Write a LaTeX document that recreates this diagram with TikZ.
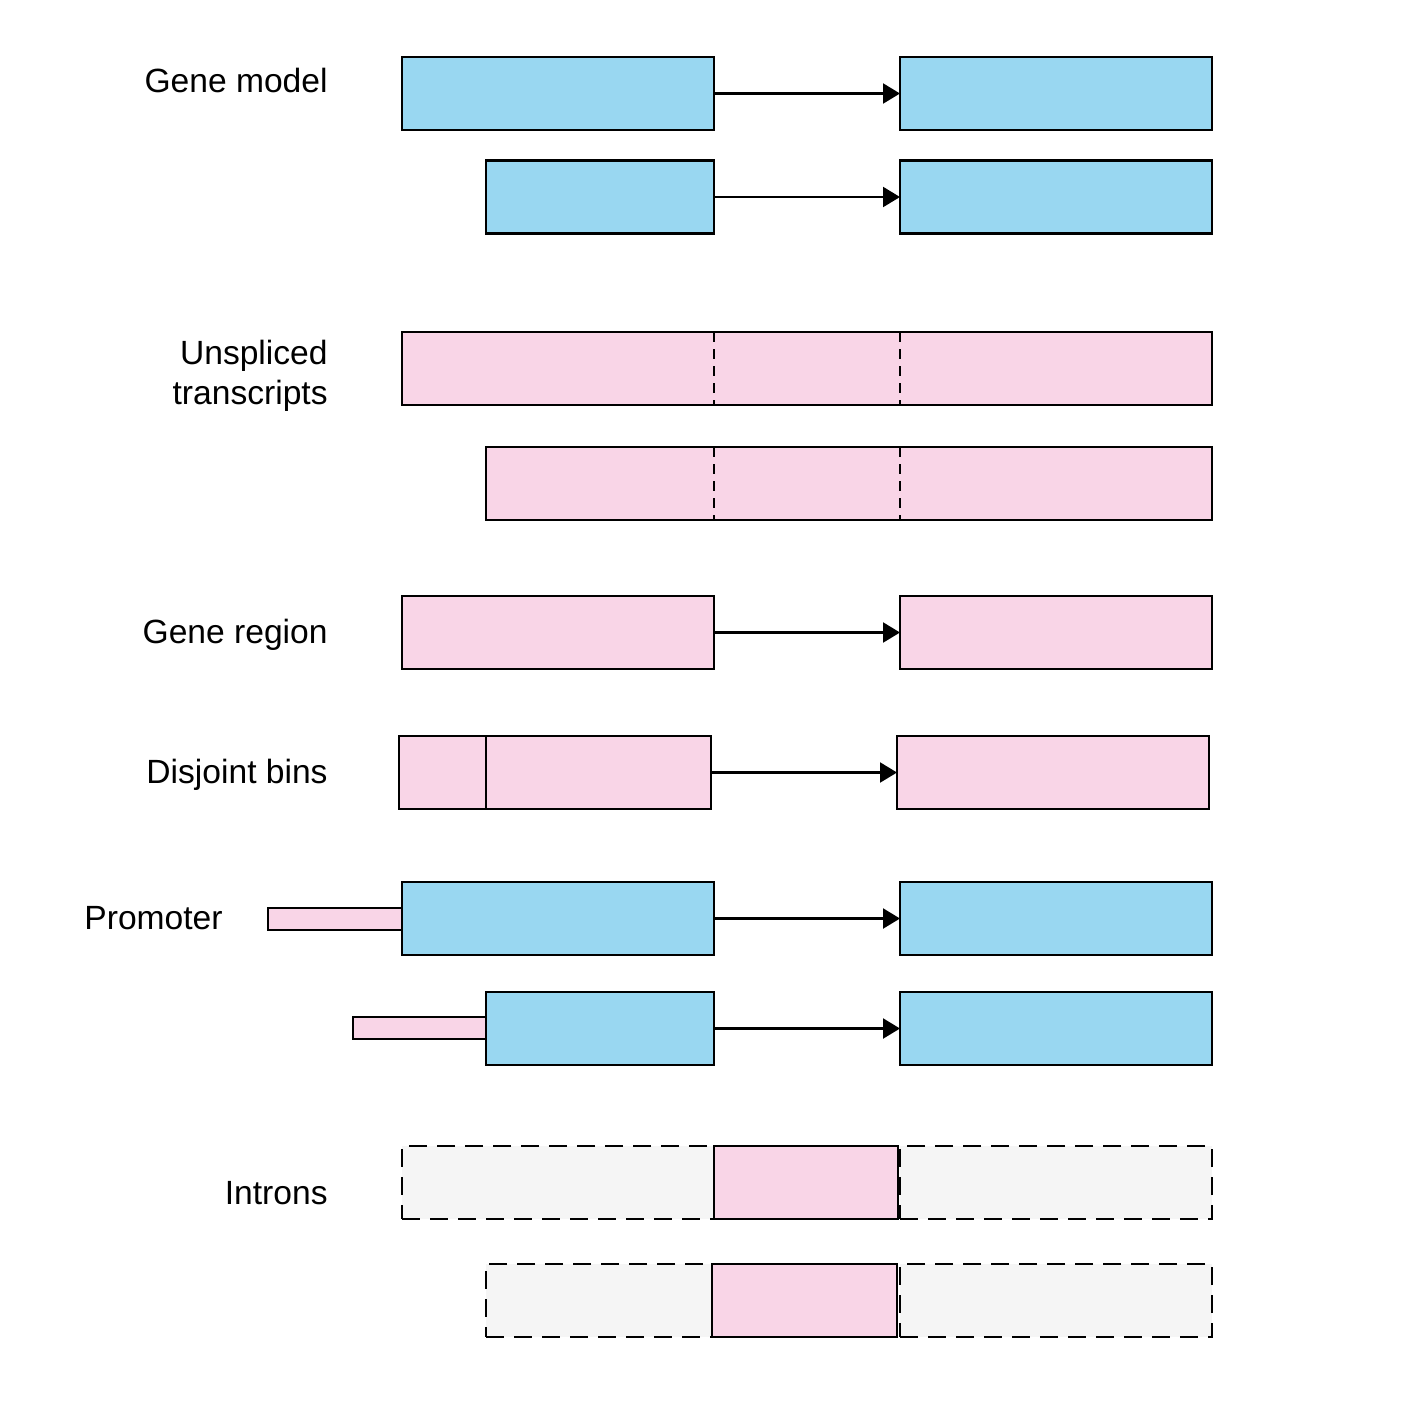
\documentclass[tikz,border=0pt]{standalone}
\usepackage{fontspec}
\setmainfont{Liberation Sans}
\usetikzlibrary{arrows.meta}
\definecolor{exonblue}{HTML}{99D7F1}
\definecolor{regionpink}{HTML}{F9D5E7}
\definecolor{introngrey}{HTML}{F5F5F5}

\begin{document}
\begin{tikzpicture}
  [x=0.5pt,y=-0.5pt,
   box/.style={draw,line width=1.25pt,inner sep=0pt,outer sep=0pt,anchor=west,minimum height=36.5pt},
   exon/.style={box,fill=exonblue,minimum width=156pt},
   region/.style={box,fill=regionpink},
   intron/.style={box,fill=introngrey,dash pattern=on 9pt off 5pt},
   prom/.style={box,fill=regionpink,minimum height=11pt},
   link/.style={line width=1.1pt,-{Triangle[length=8.5pt,width=10pt]}},
   divider/.style={line width=1.1pt,dash pattern=on 5pt off 3.5pt},
   label/.style={anchor=base east,inner sep=0pt,font=\fontsize{16.8}{20}\selectfont,align=right}]

  \useasboundingbox (0,0) rectangle (1420,1420);

  % gene model
  \node[label] (lmodel) at (328,92) {Gene model};
  \node[exon] (m1a) at (402,93.5) {};
  \node[exon] (m1b) at (900,93.5) {};
  \node[exon,minimum width=114pt] (m2a) at (486,197) {};
  \node[exon] (m2b) at (900,197) {};

  % unspliced transcripts
  \node[label,anchor=east] (lunspliced) at (328,376) {Unspliced\\transcripts};
  \node[region,minimum width=405pt] (u1) at (402,368.5) {};
  \node[region,minimum width=363pt] (u2) at (486,483.5) {};
  \foreach \x in {714,900} {
    \draw[divider] (\x,332) -- (\x,405);
    \draw[divider] (\x,447) -- (\x,520);
  }

  % gene region
  \node[label] (lregion) at (328,643) {Gene region};
  \node[region,minimum width=156pt] (r1a) at (402,632.5) {};
  \node[region,minimum width=156pt] (r1b) at (900,632.5) {};

  % disjoint bins
  \node[label] (lbins) at (328,783) {Disjoint bins};
  \node[region,minimum width=43.5pt] (d1) at (399,772.5) {};
  \node[region,minimum width=112.5pt] (d2) at (486,772.5) {};
  \node[region,minimum width=156pt] (d3) at (897,772.5) {};

  % promoter
  \node[label] (lpromoter) at (223,929) {Promoter};
  \node[prom,minimum width=67pt] (p1) at (268,919) {};
  \node[exon] (e1a) at (402,918.5) {};
  \node[exon] (e1b) at (900,918.5) {};
  \node[prom,minimum width=66.5pt] (p2) at (353,1028) {};
  \node[exon,minimum width=114pt] (e2a) at (486,1028.5) {};
  \node[exon] (e2b) at (900,1028.5) {};

  % introns
  \node[label] (lintrons) at (328,1204) {Introns};
  \node[intron,minimum width=156pt] (i1a) at (402,1182.5) {};
  \node[intron,minimum width=156pt] (i1b) at (900,1182.5) {};
  \node[region,minimum width=92pt] (i1) at (714,1182.5) {};
  \node[intron,minimum width=113pt] (i2a) at (486,1300.5) {};
  \node[intron,minimum width=156pt] (i2b) at (900,1300.5) {};
  \node[region,minimum width=92.5pt] (i2) at (712,1300.5) {};

  \foreach \from/\to in {m1a/m1b,m2a/m2b,r1a/r1b,d2/d3,e1a/e1b,e2a/e2b}
    \draw[link] (\from.east) -- (\to.west);
\end{tikzpicture}
\end{document}
